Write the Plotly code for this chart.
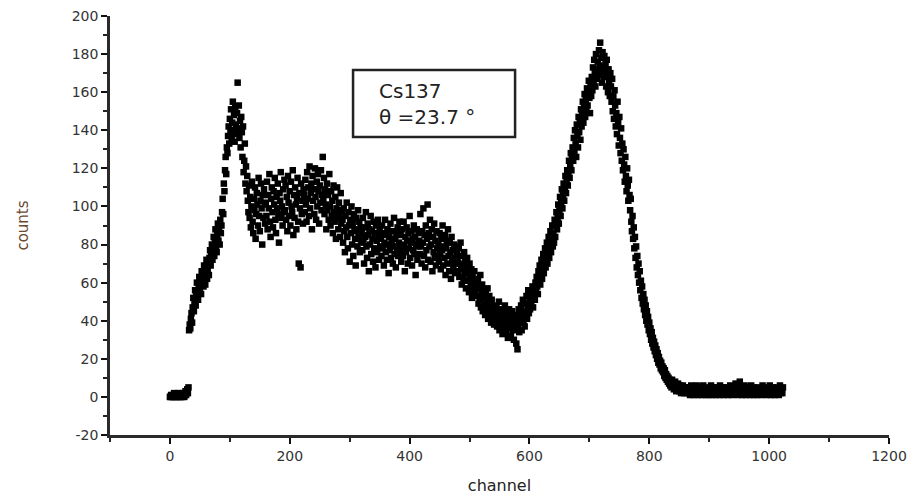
import plotly.graph_objects as go

# Gamma spectrum of Cs137 scattered at 23.7 degrees: counts per channel (0..1023)
counts_000_127 = [
    0, 0, 1, 0, 0, 1, 0, 2, 1, 0, 0, 1, 0, 0, 2, 1, 0, 1, 0, 0, 1, 2, 0, 1, 0, 1, 3, 1, 2, 4, 2, 5,
    35, 38, 36, 41, 44, 39, 47, 52, 45, 50, 56, 48, 53, 60, 55, 51, 58, 63, 57, 61, 54, 66, 60, 64, 58, 69, 63, 59, 67, 72, 62, 66,
    70, 64, 73, 77, 69, 75, 80, 72, 78, 84, 74, 81, 88, 79, 76, 85, 91, 82, 87, 80, 93, 86, 90, 97, 104, 96, 112, 108, 119, 126, 117, 131,
    128, 137, 142, 133, 146, 139, 151, 136, 144, 155, 140, 148, 134, 152, 143, 138, 149, 165, 141, 153, 136, 145, 131, 147, 139, 126, 142, 118, 124, 133, 112, 121,
]
counts_128_255 = [
    108, 116, 103, 97, 111, 94, 105, 89, 100, 113, 92, 86, 104, 98, 110, 83, 96, 107, 101, 90, 115, 95, 87, 103, 112, 99, 80, 106, 94, 109, 101, 91,
    102, 95, 113, 88, 106, 99, 117, 92, 84, 104, 110, 97, 89, 108, 101, 115, 93, 86, 105, 99, 112, 96, 81, 107, 103, 118, 94, 100, 90, 109, 97, 114,
    98, 111, 93, 105, 87, 116, 102, 95, 108, 90, 113, 100, 97, 119, 85, 106, 94, 110, 101, 88, 104, 115, 92, 70, 107, 99, 68, 112, 96, 103, 91, 109,
    106, 97, 114, 101, 92, 118, 104, 110, 95, 121, 99, 107, 112, 88, 116, 103, 109, 96, 120, 105, 93, 113, 100, 117, 108, 91, 111, 102, 119, 98, 106, 126,
]
counts_256_383 = [
    104, 115, 96, 109, 101, 88, 112, 98, 106, 93, 117, 100, 90, 108, 95, 103, 86, 111, 97, 92, 105, 83, 99, 110, 94, 88, 102, 96, 84, 107, 91, 98,
    93, 81, 99, 87, 76, 95, 89, 102, 84, 78, 97, 90, 71, 93, 86, 100, 80, 91, 74, 96, 88, 83, 69, 94, 87, 79, 98, 85, 92, 76, 89, 82,
    86, 77, 94, 81, 70, 89, 84, 97, 79, 73, 91, 85, 66, 88, 80, 95, 75, 87, 83, 71, 92, 78, 86, 68, 90, 82, 76, 93, 84, 72, 87, 79,
    83, 74, 90, 78, 86, 69, 81, 93, 76, 85, 72, 88, 80, 65, 84, 77, 91, 73, 82, 87, 70, 79, 94, 75, 83, 68, 86, 78, 89, 74, 81, 92,
]
counts_384_511 = [
    77, 85, 71, 88, 80, 74, 92, 79, 66, 84, 76, 89, 82, 70, 86, 78, 95, 73, 81, 87, 69, 83, 77, 90, 75, 84, 64, 80, 88, 72, 79, 86,
    82, 75, 96, 79, 70, 87, 81, 99, 74, 85, 68, 90, 77, 83, 101, 72, 86, 79, 93, 71, 80, 88, 66, 84, 76, 91, 73, 82, 69, 87, 78, 74,
    80, 71, 86, 75, 67, 83, 77, 90, 69, 79, 73, 85, 64, 78, 82, 70, 88, 74, 66, 81, 76, 62, 84, 71, 77, 68, 80, 73, 65, 79, 70, 75,
    72, 66, 78, 63, 70, 81, 67, 59, 74, 69, 62, 76, 65, 71, 57, 68, 73, 61, 66, 55, 70, 63, 58, 67, 52, 64, 60, 56, 66, 54, 61, 57,
]
counts_512_639 = [
    60, 53, 62, 49, 57, 51, 64, 47, 55, 59, 45, 52, 56, 48, 43, 54, 50, 46, 57, 41, 49, 53, 44, 47, 39, 51, 45, 42, 48, 38, 46, 43,
    41, 47, 37, 44, 39, 50, 35, 43, 46, 38, 42, 33, 45, 40, 36, 48, 39, 34, 44, 41, 31, 38, 46, 36, 42, 32, 39, 45, 35, 40, 30, 37,
    43, 36, 28, 41, 25, 38, 46, 34, 44, 39, 48, 35, 42, 51, 40, 45, 37, 49, 43, 53, 41, 47, 56, 44, 50, 46, 55, 48, 52, 58, 47, 54,
    57, 51, 60, 55, 63, 58, 54, 66, 61, 69, 59, 64, 72, 62, 67, 75, 65, 71, 78, 68, 74, 81, 70, 77, 84, 73, 80, 87, 76, 83, 90, 79,
]
counts_640_767 = [
    86, 81, 93, 84, 90, 97, 88, 94, 101, 91, 98, 105, 95, 102, 109, 99, 106, 112, 103, 110, 116, 107, 114, 119, 111, 118, 124, 115, 122, 128, 119, 126,
    131, 124, 136, 128, 140, 133, 126, 143, 137, 131, 147, 139, 145, 135, 151, 142, 148, 155, 144, 152, 159, 147, 156, 150, 162, 153, 160, 166, 157, 149, 164, 158,
    168, 161, 173, 165, 177, 170, 163, 180, 172, 167, 176, 169, 182, 174, 186, 171, 178, 165, 181, 173, 168, 179, 170, 175, 163, 177, 169, 160, 172, 166, 158, 170,
    163, 155, 167, 150, 158, 146, 161, 153, 142, 149, 138, 155, 144, 132, 147, 136, 128, 141, 124, 133, 119, 130, 122, 113, 126, 116, 108, 120, 111, 103, 114, 106,
]
counts_768_895 = [
    98, 104, 92, 87, 95, 83, 89, 78, 84, 73, 79, 68, 74, 64, 70, 60, 66, 56, 61, 52, 58, 49, 54, 46, 51, 43, 48, 40, 45, 38, 42, 35,
    39, 33, 36, 30, 34, 28, 31, 26, 29, 24, 27, 22, 25, 20, 23, 18, 21, 17, 19, 15, 18, 14, 16, 13, 15, 11, 14, 10, 12, 9, 11, 8,
    10, 7, 9, 6, 8, 5, 9, 6, 7, 4, 6, 8, 5, 3, 6, 4, 7, 5, 3, 6, 4, 2, 5, 3, 6, 4, 2, 5, 3, 4, 2, 5,
    3, 5, 2, 4, 1, 3, 6, 2, 4, 3, 1, 5, 2, 4, 3, 6, 2, 1, 4, 3, 5, 2, 3, 1, 4, 2, 6, 3, 2, 4, 1, 3,
]
counts_896_1023 = [
    4, 2, 5, 1, 3, 2, 4, 6, 3, 1, 2, 5, 3, 4, 2, 1, 3, 5, 2, 4, 3, 1, 6, 2, 3, 4, 2, 5, 1, 3, 2, 4,
    2, 5, 3, 1, 4, 2, 3, 6, 2, 4, 1, 3, 5, 2, 3, 4, 7, 2, 3, 5, 1, 4, 2, 8, 3, 2, 4, 1, 5, 3, 2, 6,
    3, 1, 4, 2, 5, 3, 2, 4, 1, 3, 6, 2, 4, 3, 1, 5, 2, 3, 4, 2, 1, 3, 5, 2, 4, 3, 2, 1, 4, 6, 3, 2,
    4, 2, 3, 5, 1, 3, 2, 4, 3, 6, 2, 1, 4, 3, 5, 2, 3, 1, 4, 2, 3, 5, 2, 4, 1, 3, 6, 2, 3, 4, 2, 5,
]

counts = (counts_000_127 + counts_128_255 + counts_256_383 + counts_384_511
          + counts_512_639 + counts_640_767 + counts_768_895 + counts_896_1023)
channels = list(range(len(counts)))

x_ticks = [0, 200, 400, 600, 800, 1000, 1200]
x_tick_labels = ["0", "200", "400", "600", "800", "1000", "1200"]
y_ticks = [-20, 0, 20, 40, 60, 80, 100, 120, 140, 160, 180, 200]
y_tick_labels = ["-20", "0", "20", "40", "60", "80", "100", "120", "140", "160", "180", "200"]

source_label = "Cs137"
angle_label = "θ =23.7 °"

FONT = "DejaVu Sans"

fig = go.Figure()
fig.add_trace(go.Scatter(
    x=channels, y=counts, mode="markers",
    marker=dict(symbol="square", size=6.5, color="black", line=dict(width=0)),
    showlegend=False, hoverinfo="x+y",
))

axis_common = dict(
    showline=True, linecolor="#2a2a2a", linewidth=2.5, mirror=False,
    showgrid=False, zeroline=False,
    ticks="outside", ticklen=6, tickwidth=2, tickcolor="#111",
    tickfont=dict(family=FONT, size=14, color="#333"),
)

fig.update_xaxes(
    range=[-100, 1200], tickmode="array", tickvals=x_ticks, ticktext=x_tick_labels,
    minor=dict(dtick=100, tick0=-100, ticks="outside", ticklen=4, tickwidth=2, tickcolor="#222"),
    title=dict(text="channel", font=dict(family=FONT, size=16, color="#222"), standoff=18),
    **axis_common,
)
fig.update_yaxes(
    range=[-20, 200], tickmode="array", tickvals=y_ticks, ticktext=y_tick_labels,
    minor=dict(dtick=10, tick0=-20, ticks="outside", ticklen=4, tickwidth=2, tickcolor="#222"),
    title=dict(text="counts", font=dict(family=FONT, size=15, color="#6b4a30"), standoff=40),
    **axis_common,
)

# label box with the source and scattering angle
fig.add_shape(type="rect", xref="paper", yref="paper",
              x0=0.312, x1=0.520, y0=0.711, y1=0.871,
              line=dict(color="#222", width=2.5), fillcolor="white")
fig.add_annotation(xref="paper", yref="paper", x=0.343, y=0.791,
                   xanchor="left", yanchor="middle", align="left", showarrow=False,
                   text=source_label + "<br>" + angle_label,
                   font=dict(family=FONT, size=20, color="#222"))

fig.update_layout(
    width=912, height=500,
    margin=dict(l=110, r=23, t=16, b=65, autoexpand=False),
    paper_bgcolor="white", plot_bgcolor="white",
)

fig.write_html("out.html")
